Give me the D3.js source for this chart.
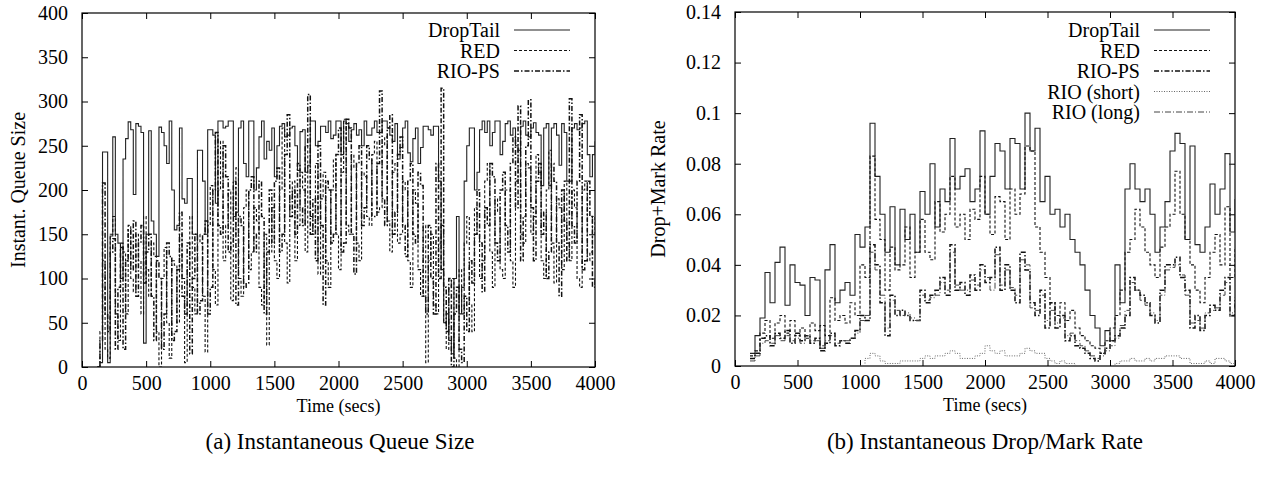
<!DOCTYPE html>
<html lang="en">
<head>
<meta charset="UTF-8">
<title>Instantaneous Queue Size and Drop/Mark Rate</title>
<script src="https://d3js.org/d3.v7.min.js"></script>
<style>
  body { margin: 0; background: #fff; }
  svg text { font-family: "Liberation Serif", "Times New Roman", serif; fill: #000; }
</style>
</head>
<body>
<svg id="chart" width="1279" height="487"></svg>
<script>
// sample times (secs) for the queue trace, every 20 s
const QUEUE_TIMES = [
  120,140,160,180,200,220,240,260,280,300,
  320,340,360,380,400,420,440,460,480,500,
  520,540,560,580,600,620,640,660,680,700,
  720,740,760,780,800,820,840,860,880,900,
  920,940,960,980,1000,1020,1040,1060,1080,1100,
  1120,1140,1160,1180,1200,1220,1240,1260,1280,1300,
  1320,1340,1360,1380,1400,1420,1440,1460,1480,1500,
  1520,1540,1560,1580,1600,1620,1640,1660,1680,1700,
  1720,1740,1760,1780,1800,1820,1840,1860,1880,1900,
  1920,1940,1960,1980,2000,2020,2040,2060,2080,2100,
  2120,2140,2160,2180,2200,2220,2240,2260,2280,2300,
  2320,2340,2360,2380,2400,2420,2440,2460,2480,2500,
  2520,2540,2560,2580,2600,2620,2640,2660,2680,2700,
  2720,2740,2760,2780,2800,2820,2840,2860,2880,2900,
  2920,2940,2960,2980,3000,3020,3040,3060,3080,3100,
  3120,3140,3160,3180,3200,3220,3240,3260,3280,3300,
  3320,3340,3360,3380,3400,3420,3440,3460,3480,3500,
  3520,3540,3560,3580,3600,3620,3640,3660,3680,3700,
  3720,3740,3760,3780,3800,3820,3840,3860,3880,3900,
  3920,3940,3960,3980,4000
];

// sample times (secs) for the rate trace, every 40 s
const RATE_TIMES = [
  120,160,200,240,280,320,360,400,440,480,
  520,560,600,640,680,720,760,800,840,880,
  920,960,1000,1040,1080,1120,1160,1200,1240,1280,
  1320,1360,1400,1440,1480,1520,1560,1600,1640,1680,
  1720,1760,1800,1840,1880,1920,1960,2000,2040,2080,
  2120,2160,2200,2240,2280,2320,2360,2400,2440,2480,
  2520,2560,2600,2640,2680,2720,2760,2800,2840,2880,
  2920,2960,3000,3040,3080,3120,3160,3200,3240,3280,
  3320,3360,3400,3440,3480,3520,3560,3600,3640,3680,
  3720,3760,3800,3840,3880,3920,3960,4000
];

const X_TICKS = [0, 500, 1000, 1500, 2000, 2500, 3000, 3500, 4000];
const QUEUE_TICKS = [0, 50, 100, 150, 200, 250, 300, 350, 400];
const RATE_TICKS = [0, 0.02, 0.04, 0.06, 0.08, 0.1, 0.12, 0.14];

// (a) instantaneous queue size
const queueDropTail = [
  0,5,243,243,5,148,260,150,140,100,
  235,258,277,268,195,275,272,265,27,150,
  267,165,150,125,271,265,250,230,278,200,
  155,160,270,190,185,213,213,150,150,245,
  245,210,150,268,268,262,185,278,278,270,
  272,278,278,170,175,270,278,230,215,278,
  278,200,225,260,278,235,255,245,270,215,
  250,272,275,260,262,270,272,250,222,266,
  268,220,228,278,278,250,255,272,272,265,
  278,258,262,278,278,240,278,275,255,268,
  275,262,268,250,278,262,262,270,278,265,
  265,278,278,270,262,255,275,235,248,270,
  278,242,232,258,270,230,248,272,272,268,
  262,272,272,210,110,50,60,30,15,100,
  170,60,90,210,250,270,270,200,220,268,
  278,265,278,250,265,278,278,240,255,275,
  278,262,270,250,245,272,278,262,260,270,
  276,265,262,205,270,275,205,270,275,262,
  228,275,265,210,210,270,275,268,270,275,
  278,240,215,240,255
];
const queueRED = [
  0,40,120,20,10,150,170,60,30,140,
  130,60,160,100,85,150,120,60,170,110,
  80,140,125,40,0,100,135,50,10,120,
  115,50,150,100,5,110,170,90,60,150,
  140,80,17,160,205,110,70,200,255,120,
  160,200,75,150,225,100,80,180,200,110,
  130,180,165,90,70,150,25,130,180,120,
  100,200,270,140,95,190,210,120,160,220,
  200,130,250,170,150,230,105,190,220,120,
  90,200,235,150,110,220,280,160,150,240,
  225,140,120,220,215,170,160,240,255,175,
  180,250,260,165,130,220,230,140,150,210,
  200,120,90,200,185,110,80,160,5,120,
  150,70,60,140,160,50,20,90,100,10,
  0,110,60,140,170,70,40,180,150,100,
  120,210,230,130,90,190,175,110,100,200,
  200,120,90,210,245,150,140,230,225,150,
  170,240,220,120,100,200,245,140,95,190,
  180,110,210,140,120,200,180,100,90,200,
  210,120,130,170,150
];
const queueRIOPS = [
  0,30,208,60,40,130,145,20,90,135,
  20,120,155,110,165,80,140,160,95,130,
  150,80,30,120,100,20,60,140,125,30,
  40,110,175,80,60,140,15,100,150,60,
  75,150,165,60,90,200,265,160,150,250,
  215,130,140,210,70,170,160,90,95,200,
  215,130,150,210,170,60,130,200,140,210,
  225,130,150,240,285,170,200,150,230,180,
  160,250,308,150,190,120,250,160,70,210,
  200,140,150,240,270,130,140,280,270,150,
  105,230,250,160,180,250,235,170,170,230,
  312,190,160,270,285,150,175,240,260,160,
  125,210,230,150,140,220,205,80,60,160,
  100,60,230,100,315,90,40,100,0,60,
  90,20,5,80,40,120,95,150,200,140,
  85,180,160,230,215,140,120,200,220,160,
  130,230,260,180,295,120,170,250,302,180,
  120,210,230,150,175,100,130,230,210,140,
  80,200,165,120,303,160,140,210,285,110,
  120,210,170,90,100
];

// (b) instantaneous drop/mark rate
const rateDropTail = [
  0.005,0.012,0.019,0.037,0.025,0.041,0.047,0.024,0.04,0.033,
  0.032,0.02,0.035,0.034,0.007,0.038,0.048,0.025,0.03,0.033,
  0.028,0.052,0.047,0.055,0.096,0.075,0.06,0.045,0.063,0.04,
  0.062,0.05,0.06,0.045,0.069,0.06,0.08,0.055,0.07,0.065,
  0.09,0.07,0.075,0.078,0.065,0.07,0.093,0.06,0.075,0.088,
  0.085,0.07,0.09,0.088,0.07,0.1,0.085,0.094,0.065,0.075,
  0.06,0.062,0.055,0.06,0.05,0.045,0.04,0.03,0.02,0.015,
  0.008,0.014,0.01,0.04,0.025,0.07,0.08,0.07,0.065,0.07,
  0.06,0.045,0.055,0.065,0.085,0.092,0.088,0.05,0.087,0.048,
  0.045,0.055,0.072,0.06,0.07,0.084,0.053,0.066
];
const rateRED = [
  0.004,0.006,0.013,0.018,0.011,0.017,0.02,0.013,0.018,0.012,
  0.015,0.011,0.017,0.014,0.016,0.012,0.027,0.018,0.02,0.017,
  0.025,0.02,0.04,0.035,0.083,0.058,0.05,0.03,0.047,0.038,
  0.04,0.055,0.035,0.045,0.058,0.045,0.042,0.065,0.053,0.06,
  0.075,0.055,0.06,0.05,0.062,0.058,0.075,0.06,0.052,0.067,
  0.065,0.05,0.07,0.06,0.068,0.087,0.085,0.055,0.045,0.035,
  0.025,0.02,0.025,0.018,0.022,0.015,0.012,0.01,0.008,0.007,
  0.005,0.01,0.015,0.02,0.03,0.045,0.05,0.062,0.055,0.045,
  0.04,0.035,0.047,0.055,0.06,0.077,0.06,0.05,0.04,0.03,
  0.025,0.035,0.045,0.052,0.04,0.063,0.035,0.047
];
const rateRIOPS = [
  0.003,0.005,0.011,0.012,0.008,0.013,0.011,0.014,0.009,0.013,
  0.01,0.012,0.009,0.011,0.006,0.009,0.013,0.008,0.01,0.009,
  0.011,0.014,0.02,0.018,0.048,0.04,0.025,0.012,0.028,0.02,
  0.022,0.02,0.018,0.018,0.03,0.025,0.028,0.03,0.035,0.028,
  0.048,0.03,0.033,0.028,0.036,0.03,0.04,0.033,0.035,0.047,
  0.03,0.04,0.03,0.025,0.045,0.038,0.025,0.02,0.03,0.015,
  0.025,0.015,0.02,0.01,0.012,0.008,0.007,0.005,0.003,0.002,
  0.005,0.007,0.01,0.012,0.015,0.02,0.035,0.03,0.028,0.025,
  0.02,0.017,0.03,0.04,0.04,0.043,0.035,0.03,0.015,0.02,
  0.014,0.02,0.024,0.022,0.03,0.035,0.02,0.027
];
const rateRIOShort = [
  0,0,0,0,0,0,0,0,0,0,
  0,0,0,0,0,0,0,0,0,0,
  0,0,0,0.003,0.005,0.004,0.002,0.001,0.001,0.001,
  0.002,0.002,0.002,0.002,0.003,0.004,0.003,0.004,0.004,0.005,
  0.006,0.005,0.003,0.003,0.003,0.004,0.005,0.008,0.006,0.005,
  0.006,0.004,0.004,0.004,0.005,0.007,0.006,0.005,0.005,0.003,
  0.002,0.001,0.002,0.001,0.001,0,0,0,0,0,
  0,0,0,0.001,0.002,0.002,0.003,0.002,0.002,0.003,
  0.002,0.003,0.003,0.004,0.004,0.004,0.003,0.003,0.001,0.001,
  0.001,0.002,0.001,0.003,0.003,0.002,0.001,0.001
];
const rateRIOLong = [
  0.002,0.004,0.009,0.01,0.009,0.012,0.01,0.012,0.01,0.011,
  0.009,0.012,0.01,0.01,0.008,0.01,0.012,0.009,0.01,0.01,
  0.011,0.013,0.018,0.02,0.045,0.038,0.028,0.015,0.026,0.022,
  0.02,0.021,0.019,0.018,0.028,0.026,0.027,0.028,0.033,0.03,
  0.045,0.032,0.03,0.03,0.034,0.032,0.038,0.035,0.03,0.044,
  0.032,0.038,0.031,0.028,0.042,0.04,0.023,0.022,0.028,0.018,
  0.022,0.017,0.019,0.012,0.013,0.01,0.008,0.006,0.004,0.003,
  0.004,0.006,0.008,0.011,0.016,0.022,0.033,0.03,0.026,0.024,
  0.021,0.018,0.028,0.038,0.039,0.04,0.036,0.028,0.017,0.018,
  0.015,0.021,0.022,0.023,0.028,0.033,0.021,0.025
];

// line looks, gnuplot style
const STYLES = {
  "DropTail":    { stroke: "#222", width: 1.1, dash: null },
  "RED":         { stroke: "#111", width: 1.1, dash: "3,2" },
  "RIO-PS":      { stroke: "#111", width: 1.5, dash: "5,2,1.5,2" },
  "RIO (short)": { stroke: "#666", width: 1, dash: "1,1.5" },
  "RIO (long)":  { stroke: "#444", width: 1, dash: "6,2,1,2" }
};

const FONT = '"Liberation Serif", "Times New Roman", serif';
const svg = d3.select("#chart");

function drawPanel(p) {
  const x = d3.scaleLinear().domain([0, 4000]).range([p.x0, p.x1]);
  const y = d3.scaleLinear().domain(p.yDomain).range([p.y1, p.y0]);
  const g = svg.append("g");

  const clipId = "clip-" + p.id;
  svg.append("clipPath").attr("id", clipId)
    .append("rect").attr("x", p.x0).attr("y", p.y0)
    .attr("width", p.x1 - p.x0).attr("height", p.y1 - p.y0);

  // axes with inward ticks on all four sides
  const bottom = g.append("g").attr("transform", "translate(0," + p.y1 + ")")
    .call(d3.axisBottom(x).tickValues(X_TICKS).tickSize(-6).tickPadding(9).tickFormat(d3.format("d")));
  const top = g.append("g").attr("transform", "translate(0," + p.y0 + ")")
    .call(d3.axisTop(x).tickValues(X_TICKS).tickSize(-6).tickFormat(""));
  const left = g.append("g").attr("transform", "translate(" + p.x0 + ",0)")
    .call(d3.axisLeft(y).tickValues(p.yTicks).tickSize(-6).tickPadding(14).tickFormat(p.fmt));
  const right = g.append("g").attr("transform", "translate(" + p.x1 + ",0)")
    .call(d3.axisRight(y).tickValues(p.yTicks).tickSize(-6).tickFormat(""));
  [bottom, top, left, right].forEach(a => {
    a.attr("font-size", 20).attr("font-family", FONT);
    a.select(".domain").remove();
    a.selectAll("line").attr("stroke", "#000");
  });

  g.append("rect").attr("x", p.x0).attr("y", p.y0)
    .attr("width", p.x1 - p.x0).attr("height", p.y1 - p.y0)
    .attr("fill", "none").attr("stroke", "#000").attr("stroke-width", 1.2);

  const line = d3.line()
    .x((d, i) => x(p.times[i]))
    .y(d => y(d))
    .curve(d3.curveStepAfter);

  p.series.forEach(s => {
    const st = STYLES[s.name];
    g.append("path")
      .attr("clip-path", "url(#" + clipId + ")")
      .attr("d", line(s.values))
      .attr("fill", "none")
      .attr("stroke", st.stroke)
      .attr("stroke-width", st.width)
      .attr("stroke-dasharray", st.dash);
  });

  // legend, top right
  p.series.forEach((s, i) => {
    const st = STYLES[s.name];
    const ly = p.legendY + i * 20.5;
    g.append("text").attr("x", p.legendTextX).attr("y", ly + 7)
      .attr("text-anchor", "end").attr("font-size", 20).text(s.name);
    g.append("line").attr("x1", p.legendTextX + 14).attr("x2", p.legendTextX + 70)
      .attr("y1", ly).attr("y2", ly)
      .attr("stroke", st.stroke).attr("stroke-width", st.width)
      .attr("stroke-dasharray", st.dash);
  });

  const cx = (p.x0 + p.x1) / 2;
  g.append("text").attr("x", cx).attr("y", p.y1 + 45)
    .attr("text-anchor", "middle").attr("font-size", 18).text("Time (secs)");
  g.append("text")
    .attr("transform", "translate(" + p.yLabelX + "," + ((p.y0 + p.y1) / 2) + ") rotate(-90)")
    .attr("text-anchor", "middle").attr("font-size", 20).text(p.yLabel);
  g.append("text").attr("x", p.captionX).attr("y", 449)
    .attr("text-anchor", "middle").attr("font-size", 23).text(p.caption);
}

drawPanel({
  id: "queue", x0: 82, x1: 595, y0: 13, y1: 367,
  times: QUEUE_TIMES,
  yDomain: [0, 400], yTicks: QUEUE_TICKS, fmt: d3.format("d"),
  yLabel: "Instant. Queue Size", yLabelX: 25,
  caption: "(a) Instantaneous Queue Size", captionX: 340,
  legendY: 30, legendTextX: 500,
  series: [
    { name: "DropTail", values: queueDropTail },
    { name: "RED", values: queueRED },
    { name: "RIO-PS", values: queueRIOPS }
  ]
});

drawPanel({
  id: "rate", x0: 735, x1: 1235, y0: 12, y1: 366,
  times: RATE_TIMES,
  yDomain: [0, 0.14], yTicks: RATE_TICKS, fmt: d => String(+d.toFixed(2)),
  yLabel: "Drop+Mark Rate", yLabelX: 665,
  caption: "(b) Instantaneous Drop/Mark Rate", captionX: 985,
  legendY: 30, legendTextX: 1140,
  series: [
    { name: "DropTail", values: rateDropTail },
    { name: "RED", values: rateRED },
    { name: "RIO-PS", values: rateRIOPS },
    { name: "RIO (short)", values: rateRIOShort },
    { name: "RIO (long)", values: rateRIOLong }
  ]
});
</script>
</body>
</html>
